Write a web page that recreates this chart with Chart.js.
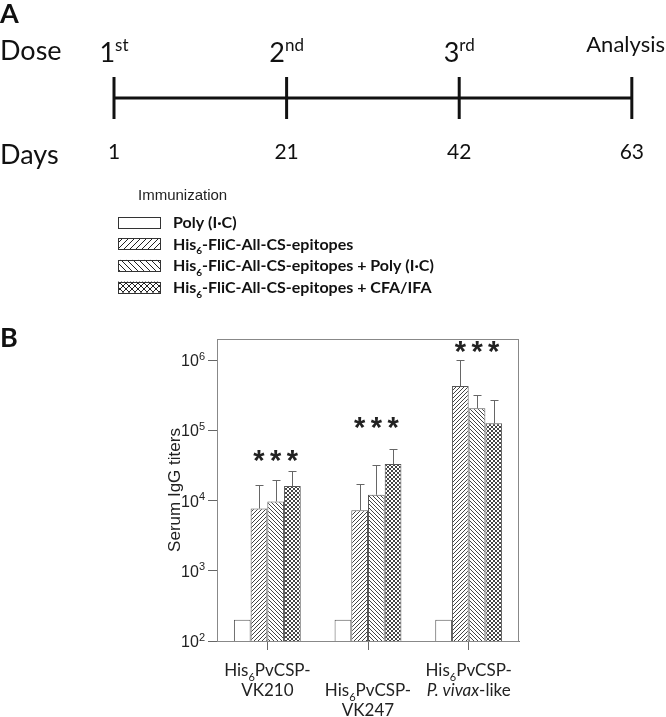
<!DOCTYPE html>
<html>
<head>
<meta charset="utf-8">
<script src="https://cdn.jsdelivr.net/npm/chart.js@4.4.1/dist/chart.umd.min.js"></script>
<style>
  body { margin: 0; background: #fff; }
  canvas { display: block; }
</style>
</head>
<body>
<canvas id="timelineChart" width="666" height="175"></canvas>
<canvas id="titerChart" width="666" height="542"></canvas>
<script>
// ---- Panel A: immunization schedule ----
const days = ['1', '21', '42', '63'];
const doseNumbers = ['1', '2', '3', 'Analysis'];
const doseSuffixes = ['st', 'nd', 'rd', ''];
const timelineLevel = [0, 0, 0, 0];

// ---- Panel B: serum IgG titers ----
// "_" toggles italics, "₆" is drawn as a subscript 6
const antigens = ['His₆PvCSP-\nVK210', 'His₆PvCSP-\nVK247', 'His₆PvCSP-\n_P. vivax_-like'];
const antigenRow = [0, 1, 0]; // middle label sits one line lower
const groupNames = [
  'Poly (I·C)',
  'His₆-FliC-All-CS-epitopes',
  'His₆-FliC-All-CS-epitopes + Poly (I·C)',
  'His₆-FliC-All-CS-epitopes + CFA/IFA',
];
const polyIC = [200, 200, 200];
const fliC = [7700, 7300, 428000];
const fliCPolyIC = [9700, 12100, 206000];
const fliCCfa = [16100, 33200, 126000];
const polyICErr = [null, null, null];
const fliCErr = [16700, 17400, 1020000];
const fliCPolyICErr = [19500, 31700, 316000];
const fliCCfaErr = [26700, 54300, 271000];
const starLevel = [43000, 127000, 1540000]; // height of the *** marks
const yTicks = [1e2, 1e3, 1e4, 1e5, 1e6];
const yTickExponents = ['2', '3', '4', '5', '6'];

const SANS = 'Lato';
const ARIAL = '"Liberation Sans"';

// split a label into plain / italic / subscript pieces
const parseRich = (str) => {
  const parts = [];
  let italic = false;
  let buf = '';
  const flush = () => { if (buf) parts.push({ t: buf, italic }); buf = ''; };
  for (const ch of str) {
    if (ch === '_') { flush(); italic = !italic; }
    else if (ch === '₆') { flush(); parts.push({ t: '6', sub: true, italic }); }
    else buf += ch;
  }
  flush();
  return parts;
};

const drawRich = (ctx, parts, x, y, { size, family, weight = 'normal', align = 'left', color = '#111', small = 0.62 }) => {
  if (typeof parts === 'string') parts = parseRich(parts);
  const fontFor = (p) => `${p.italic ? 'italic ' : ''}${weight} ${p.sub || p.sup ? Math.round(size * small) : size}px ${family}`;
  let width = 0;
  parts.forEach((p) => { ctx.font = fontFor(p); p.w = ctx.measureText(p.t).width; width += p.w; });
  let cx = align === 'center' ? x - width / 2 : align === 'right' ? x - width : x;
  ctx.fillStyle = color;
  ctx.textAlign = 'left';
  ctx.textBaseline = 'alphabetic';
  parts.forEach((p) => {
    ctx.font = fontFor(p);
    const dy = p.sub ? size * 0.28 : p.sup ? -size * 0.4 : 0;
    ctx.fillText(p.t, cx, y + dy);
    cx += p.w;
  });
  return width;
};

// hatch fills for the bars and legend boxes
const makeHatch = (kind, step, color) => {
  const c = document.createElement('canvas');
  c.width = c.height = step;
  const g = c.getContext('2d');
  g.fillStyle = '#fff';
  g.fillRect(0, 0, step, step);
  g.strokeStyle = color;
  g.lineWidth = 1;
  const line = (x1, y1, x2, y2) => { g.beginPath(); g.moveTo(x1, y1); g.lineTo(x2, y2); g.stroke(); };
  if (kind === 'fwd' || kind === 'cross') {
    line(-1, step + 1, step + 1, -1);
    line(-1, 1, 1, -1);
    line(step - 1, step + 1, step + 1, step - 1);
  }
  if (kind === 'back' || kind === 'cross') {
    line(-1, -1, step + 1, step + 1);
    line(step - 1, -1, step + 1, 1);
    line(-1, step - 1, 1, step + 1);
  }
  return g.createPattern(c, 'repeat');
};

// ---------- Panel A ----------
const timelineText = {
  id: 'timelineText',
  afterDraw(chart) {
    const { ctx } = chart;
    const x = chart.scales.x;
    ctx.save();
    ctx.font = `bold 27px ${SANS}`;
    ctx.fillStyle = '#111';
    ctx.textBaseline = 'alphabetic';
    ctx.fillText('A', 0, 23);
    drawRich(ctx, 'Dose', 0, 60, { size: 27, family: SANS });
    drawRich(ctx, 'Days', 0, 164, { size: 27, family: SANS });
    doseNumbers.forEach((n, i) => {
      const px = x.getPixelForValue(i);
      if (doseSuffixes[i]) {
        drawRich(ctx, [{ t: n }, { t: doseSuffixes[i], sup: true }], px, 62, { size: 27, family: SANS, align: 'center' });
      } else {
        drawRich(ctx, n, 665, 52, { size: 22, family: SANS, align: 'right' });
      }
    });
    ctx.restore();
  },
};

new Chart(document.getElementById('timelineChart'), {
  type: 'line',
  data: {
    labels: days,
    datasets: [{
      data: timelineLevel,
      borderColor: '#111',
      borderWidth: 3,
      pointStyle: 'line',
      pointRotation: 90,
      pointRadius: 21,
      pointBorderWidth: 3,
      pointBorderColor: '#111',
      clip: false,
    }],
  },
  options: {
    responsive: false,
    animation: false,
    events: [],
    layout: { padding: { left: 114, right: 30, top: 78, bottom: 0 } },
    plugins: { legend: { display: false }, tooltip: { enabled: false } },
    scales: {
      x: {
        grid: { display: false, drawTicks: false },
        border: { display: false },
        ticks: { font: { family: SANS, size: 21 }, color: '#111', padding: 22, maxRotation: 0 },
        afterFit: (s) => { s.height = 57; },
      },
      y: { display: false, min: -1, max: 1 },
    },
  },
  plugins: [timelineText],
});

// ---------- Panel B ----------
const hatchKinds = ['none', 'fwd', 'back', 'cross'];
const series = [polyIC, fliC, fliCPolyIC, fliCCfa];
const errors = [polyICErr, fliCErr, fliCPolyICErr, fliCCfaErr];

const errorBars = {
  id: 'errorBars',
  afterDatasetsDraw(chart) {
    const { ctx } = chart;
    const y = chart.scales.y;
    ctx.save();
    ctx.strokeStyle = '#666';
    ctx.lineWidth = 1;
    chart.data.datasets.forEach((ds, i) => {
      chart.getDatasetMeta(i).data.forEach((bar, j) => {
        const v = ds.errorUp[j];
        if (v == null) return;
        const x = Math.round(bar.x) + 0.5;
        const top = Math.round(y.getPixelForValue(v)) + 0.5;
        ctx.beginPath();
        ctx.moveTo(x, bar.y);
        ctx.lineTo(x, top);
        ctx.moveTo(x - 4, top);
        ctx.lineTo(x + 4, top);
        ctx.stroke();
      });
    });
    ctx.restore();
  },
};

const panelText = {
  id: 'panelText',
  afterDraw(chart) {
    const { ctx, chartArea: a } = chart;
    const { x, y } = chart.scales;
    ctx.save();

    // frame around the plot
    ctx.strokeStyle = '#888';
    ctx.lineWidth = 1;
    ctx.strokeRect(a.left + 0.5, a.top + 0.5, a.right - a.left - 1, a.bottom - a.top);

    // panel letter
    ctx.font = `bold 27px ${SANS}`;
    ctx.fillStyle = '#111';
    ctx.textBaseline = 'alphabetic';
    ctx.fillText('B', 0, 172);

    // y tick labels as 10 with a raised exponent
    y.ticks.forEach((t, i) => {
      const py = y.getPixelForValue(t.value);
      drawRich(ctx, [{ t: '10' }, { t: yTickExponents[i], sup: true }], 205, py + 6,
        { size: 16, family: ARIAL, align: 'right', color: '#222', small: 0.7 });
    });

    // legend
    drawRich(ctx, 'Immunization', 138, 25, { size: 15, family: ARIAL, color: '#222' });
    chart.data.datasets.forEach((ds, i) => {
      const cy = 47 + i * 21.7;
      ctx.fillStyle = ds.hatch === 'none' ? '#fff' : makeHatch(ds.hatch, 6, '#222');
      ctx.fillRect(118, cy - 5.5, 42, 11);
      ctx.strokeStyle = '#333';
      ctx.strokeRect(118.5, Math.round(cy - 5.5) + 0.5, 42, 11);
      drawRich(ctx, ds.label, 173, cy + 6, { size: 16, family: SANS, weight: 'bold', color: '#111' });
    });

    // category labels under the axis
    antigens.forEach((label, j) => {
      const px = x.getPixelForValue(j);
      label.split('\n').forEach((line, k) => {
        drawRich(ctx, line, px, 501 + (antigenRow[j] + k) * 20, { size: 17, family: SANS, color: '#222', align: 'center' });
      });
    });

    // significance marks over the three immunized groups
    ctx.font = `bold 29px ${ARIAL}`;
    ctx.fillStyle = '#222';
    ctx.textAlign = 'center';
    const m = ctx.measureText('*');
    starLevel.forEach((v, j) => {
      const cy = y.getPixelForValue(v);
      for (let i = 1; i < chart.data.datasets.length; i++) {
        const bar = chart.getDatasetMeta(i).data[j];
        ctx.fillText('*', bar.x, cy + (m.actualBoundingBoxAscent - m.actualBoundingBoxDescent) / 2);
      }
    });
    ctx.restore();
  },
};

new Chart(document.getElementById('titerChart'), {
  type: 'bar',
  data: {
    labels: antigens,
    datasets: groupNames.map((name, i) => ({
      label: name,
      data: series[i],
      errorUp: errors[i],
      hatch: hatchKinds[i],
      backgroundColor: hatchKinds[i] === 'none' ? '#fff' : makeHatch(hatchKinds[i], 4, '#444'),
      borderColor: '#555',
      borderWidth: 1,
      barPercentage: 1,
      categoryPercentage: 0.664,
    })),
  },
  options: {
    responsive: false,
    animation: false,
    events: [],
    layout: { padding: { left: 150, right: 147, top: 164, bottom: 0 } },
    plugins: { legend: { display: false }, tooltip: { enabled: false } },
    scales: {
      x: {
        offset: true,
        grid: { offset: false, drawOnChartArea: false, tickLength: 9, color: '#666' },
        border: { color: '#777' },
        ticks: { display: false },
        afterFit: (s) => { s.height = 76; },
      },
      y: {
        type: 'logarithmic',
        min: 100,
        max: 2e6,
        afterBuildTicks: (s) => { s.ticks = yTicks.map((v) => ({ value: v })); },
        grid: { drawOnChartArea: false, tickLength: 9, color: '#666' },
        border: { color: '#777' },
        ticks: { display: false },
        title: {
          display: true,
          text: 'Serum IgG titers',
          font: { family: 'Liberation Sans', size: 17 },
          color: '#222',
          padding: { top: 15 },
        },
        afterFit: (s) => { s.width = 67; },
      },
    },
  },
  plugins: [errorBars, panelText],
});
</script>
</body>
</html>
